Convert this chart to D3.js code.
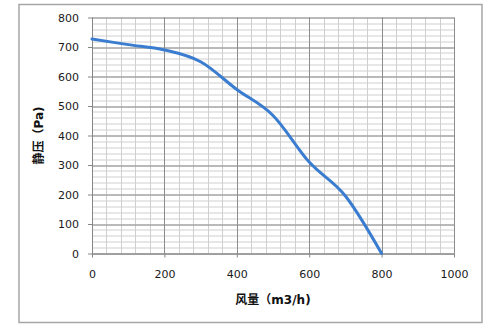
<!DOCTYPE html>
<html>
<head>
<meta charset="utf-8">
<script src="https://cdn.jsdelivr.net/npm/d3@7"></script>
<style>
  body { margin: 0; background: #fff; }
  svg { display: block; }
</style>
</head>
<body>
<svg width="500" height="330"></svg>
<script>
// air flow (m3/h) vs static pressure (Pa)
var flow = [0, 100, 200, 300, 400, 500, 600, 700, 800];
var pressure = [727, 708, 690, 650, 556, 468, 310, 195, 0];
var xTicks = [0, 200, 400, 600, 800, 1000];
var yTicks = [0, 100, 200, 300, 400, 500, 600, 700, 800];
var xLabel = "风量（m3/h)";
var yLabel = "静压（Pa)";

var svg = d3.select("svg");
var mLeft = 92, mTop = 17.5, mRight = 454, mBottom = 253.5;
var width = mRight - mLeft;
var height = mBottom - mTop;

// outer chart frame
svg.append("rect")
    .attr("x", 19).attr("y", 4.5)
    .attr("width", 463).attr("height", 318)
    .attr("fill", "#fff")
    .attr("stroke", "#a6a6a6")
    .attr("stroke-width", 1.5);

var x = d3.scaleLinear().domain([0, 1000]).range([0, width]);
var y = d3.scaleLinear().domain([0, 800]).range([height, 0]);

var g = svg.append("g").attr("transform", "translate(" + mLeft + "," + mTop + ")");

// minor grid
g.append("g").selectAll("line")
    .data(d3.range(0, 1001, 40))
    .enter().append("line")
    .attr("x1", d => Math.round(x(d)) + 0.5).attr("x2", d => Math.round(x(d)) + 0.5)
    .attr("y1", 0).attr("y2", height)
    .attr("stroke", "#cfcfcf");
g.append("g").selectAll("line")
    .data(d3.range(0, 801, 20))
    .enter().append("line")
    .attr("y1", d => Math.round(y(d)) + 0.5).attr("y2", d => Math.round(y(d)) + 0.5)
    .attr("x1", 0).attr("x2", width)
    .attr("stroke", "#cfcfcf");

// major grid
g.append("g").selectAll("line")
    .data(xTicks)
    .enter().append("line")
    .attr("x1", d => Math.round(x(d)) + 0.5).attr("x2", d => Math.round(x(d)) + 0.5)
    .attr("y1", 0).attr("y2", height)
    .attr("stroke", "#8c8c8c");
g.append("g").selectAll("line")
    .data(yTicks)
    .enter().append("line")
    .attr("y1", d => Math.round(y(d)) + 0.5).attr("y2", d => Math.round(y(d)) + 0.5)
    .attr("x1", 0).attr("x2", width)
    .attr("stroke", "#8c8c8c");

var xaxis = g.append("g")
    .attr("transform", "translate(0," + height + ")")
    .call(d3.axisBottom(x).tickValues(xTicks).tickFormat(d3.format("d"))
        .tickSize(4).tickSizeOuter(0).tickPadding(13));
var yaxis = g.append("g")
    .call(d3.axisLeft(y).tickValues(yTicks).tickFormat(d3.format("d"))
        .tickSize(4).tickSizeOuter(0).tickPadding(9));

[xaxis, yaxis].forEach(function(a) {
    a.select(".domain").attr("stroke", "#868686");
    a.selectAll(".tick line").attr("stroke", "#868686");
    a.selectAll("text")
        .attr("fill", "#1a1a1a")
        .style("font-family", "Verdana, 'DejaVu Sans', sans-serif")
        .style("font-size", "11px");
});

// Excel style smoothed line
var pts = flow.map(function(f, i) { return [f, pressure[i]]; });
var line = d3.line()
    .x(d => x(d[0]))
    .y(d => y(d[1]))
    .curve(d3.curveCardinal.tension(0));

g.append("path")
    .datum(pts)
    .attr("fill", "none")
    .attr("stroke", "#3a7dd0")
    .attr("stroke-width", 3)
    .attr("stroke-linecap", "round")
    .attr("d", line);

svg.append("text")
    .attr("x", mLeft + width / 2)
    .attr("y", 304)
    .attr("text-anchor", "middle")
    .style("font-family", "'DejaVu Sans', 'Noto Sans CJK SC', sans-serif")
    .style("font-weight", "bold")
    .style("font-size", "12px")
    .attr("fill", "#111")
    .text(xLabel);

svg.append("text")
    .attr("transform", "translate(43," + (mTop + height / 2) + ") rotate(-90)")
    .attr("text-anchor", "middle")
    .style("font-family", "'DejaVu Sans', 'Noto Sans CJK SC', sans-serif")
    .style("font-weight", "bold")
    .style("font-size", "12px")
    .attr("fill", "#111")
    .text(yLabel);
</script>
</body>
</html>
